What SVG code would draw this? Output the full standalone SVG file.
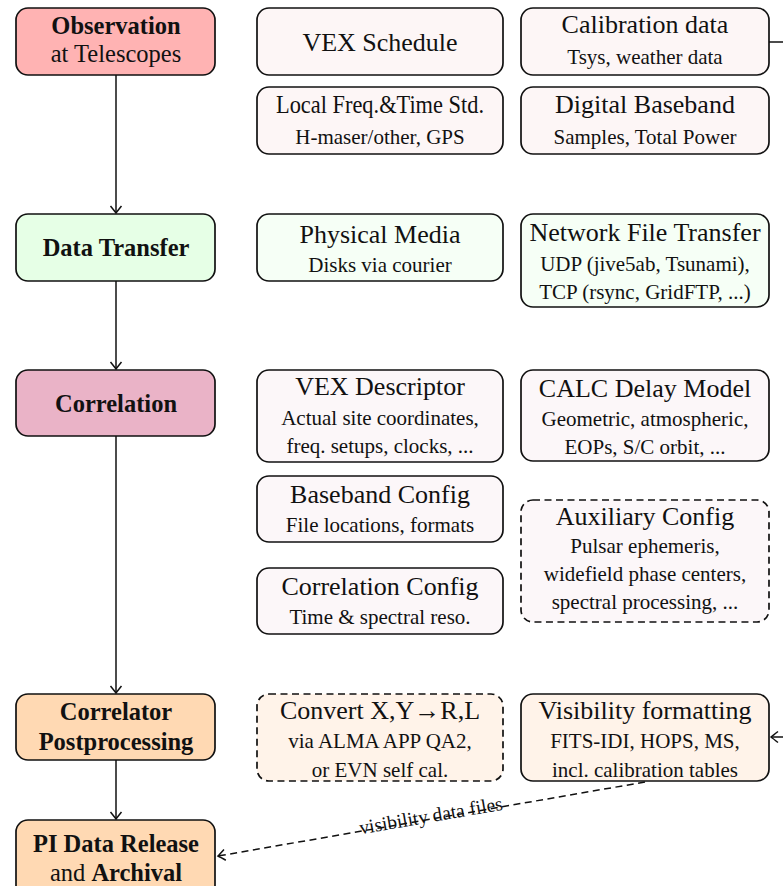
<svg xmlns="http://www.w3.org/2000/svg" width="783" height="886" viewBox="0 0 783 886">
<defs>
<style>
.box{stroke:#111;stroke-width:1.7}
.dash{stroke-dasharray:7 4.5}
.t{font-family:"Liberation Serif","Times New Roman",serif;font-size:26px;fill:#111;text-anchor:middle}
.s{font-family:"Liberation Serif","Times New Roman",serif;font-size:21px;fill:#111;text-anchor:middle}
.l{font-family:"Liberation Serif","Times New Roman",serif;font-size:24.5px;fill:#111;text-anchor:middle}
.b{font-weight:bold}
.obs{fill:#ffb3b3}
.obsl{fill:#fdf6f6}
.dt{fill:#e6ffe6}
.dtl{fill:#f6fff6}
.cor{fill:#eab3c7}
.corl{fill:#fcf7f9}
.pp{fill:#ffd9b3}
.ppl{fill:#fff3e9}
.conn{fill:none;stroke:#111;stroke-width:1.5}
</style>
<marker id="ah" viewBox="-9 -7 11 14" refX="0" refY="0" markerWidth="11" markerHeight="14" markerUnits="userSpaceOnUse" orient="auto">
<path d="M -7 -5.5 Q -2 -1.5 0 0 Q -2 1.5 -7 5.5" fill="none" stroke="#111" stroke-width="1.5"/>
</marker>
</defs>
<rect width="783" height="886" fill="#fff"/>

<g id="connectors">
<line class="conn" x1="116" y1="75" x2="116" y2="213" marker-end="url(#ah)"/>
<line class="conn" x1="116" y1="281" x2="116" y2="369" marker-end="url(#ah)"/>
<line class="conn" x1="116" y1="436" x2="116" y2="693" marker-end="url(#ah)"/>
<line class="conn" x1="116" y1="760" x2="116" y2="819" marker-end="url(#ah)"/>
<line class="conn" x1="769" y1="42" x2="783" y2="42"/>
<line class="conn" x1="783" y1="737" x2="771" y2="737" marker-end="url(#ah)"/>
<line class="conn dash" x1="645" y1="782" x2="218" y2="856" marker-end="url(#ah)"/>
<text class="s" transform="translate(432 822) rotate(-9.8)" style="font-size:19.5px">visibility data files</text>
</g>

<g id="observation"><rect class="box obs" x="16" y="8" width="199" height="67" rx="12"/>
<text class="l b" x="116" y="34">Observation</text><text class="l" x="116" y="62">at Telescopes</text></g>
<g id="vex-schedule"><rect class="box obsl" x="257" y="8" width="246" height="67" rx="12"/>
<text class="t" x="380" y="51">VEX Schedule</text></g>
<g id="calibration-data"><rect class="box obsl" x="521" y="8" width="248" height="67" rx="12"/>
<text class="t" x="645" y="33">Calibration data</text><text class="s" x="645" y="64">Tsys, weather data</text></g>
<g id="local-freq"><rect class="box obsl" x="257" y="87" width="246" height="67" rx="12"/>
<text class="t" x="380" y="113" textLength="208" lengthAdjust="spacingAndGlyphs">Local Freq.&amp;Time Std.</text><text class="s" x="380" y="144">H-maser/other, GPS</text></g>
<g id="digital-baseband"><rect class="box obsl" x="521" y="87" width="248" height="67" rx="12"/>
<text class="t" x="645" y="113">Digital Baseband</text><text class="s" x="645" y="144">Samples, Total Power</text></g>

<g id="data-transfer"><rect class="box dt" x="16" y="214" width="199" height="67" rx="12"/>
<text class="l b" x="116" y="256">Data Transfer</text></g>
<g id="physical-media"><rect class="box dtl" x="257" y="214" width="246" height="67" rx="12"/>
<text class="t" x="380" y="243">Physical Media</text><text class="s" x="380" y="272">Disks via courier</text></g>
<g id="network-transfer"><rect class="box dtl" x="521" y="214" width="248" height="93" rx="12"/>
<text class="t" x="645" y="241">Network File Transfer</text><text class="s" x="645" y="271">UDP (jive5ab, Tsunami),</text><text class="s" x="645" y="299">TCP (rsync, GridFTP, ...)</text></g>

<g id="correlation"><rect class="box cor" x="16" y="370" width="199" height="66" rx="12"/>
<text class="l b" x="116" y="412">Correlation</text></g>
<g id="vex-descriptor"><rect class="box corl" x="257" y="370" width="246" height="92" rx="12"/>
<text class="t" x="380" y="395">VEX Descriptor</text><text class="s" x="380" y="425">Actual site coordinates,</text><text class="s" x="380" y="453">freq.  setups, clocks, ...</text></g>
<g id="calc-delay"><rect class="box corl" x="521" y="370" width="248" height="91" rx="12"/>
<text class="t" x="645" y="397">CALC Delay Model</text><text class="s" x="645" y="426">Geometric, atmospheric,</text><text class="s" x="645" y="454">EOPs, S/C orbit, ...</text></g>
<g id="baseband-config"><rect class="box corl" x="257" y="476" width="246" height="66" rx="12"/>
<text class="t" x="380" y="503">Baseband Config</text><text class="s" x="380" y="532">File locations, formats</text></g>
<g id="auxiliary-config"><rect class="box corl dash" x="521" y="500" width="248" height="122" rx="12"/>
<text class="t" x="645" y="525">Auxiliary Config</text><text class="s" x="645" y="553">Pulsar ephemeris,</text><text class="s" x="645" y="581">widefield phase centers,</text><text class="s" x="645" y="609">spectral processing, ...</text></g>
<g id="correlation-config"><rect class="box corl" x="257" y="568" width="246" height="66" rx="12"/>
<text class="t" x="380" y="595">Correlation Config</text><text class="s" x="380" y="624">Time &amp; spectral reso.</text></g>

<g id="postprocessing"><rect class="box pp" x="16" y="694" width="199" height="66" rx="12"/>
<text class="l b" x="116" y="720">Correlator</text><text class="l b" x="116" y="750">Postprocessing</text></g>
<g id="convert"><rect class="box ppl dash" x="257" y="694" width="246" height="87" rx="12"/>
<text class="t" x="380" y="719">Convert X,Y→R,L</text><text class="s" x="380" y="748">via ALMA APP QA2,</text><text class="s" x="380" y="777">or EVN self cal.</text></g>
<g id="visibility-formatting"><rect class="box ppl" x="521" y="694" width="248" height="87" rx="12"/>
<text class="t" x="645" y="719">Visibility formatting</text><text class="s" x="645" y="748">FITS-IDI, HOPS, MS,</text><text class="s" x="645" y="777">incl.  calibration tables</text></g>
<g id="pi-release"><rect class="box pp" x="16" y="820" width="199" height="80" rx="12"/>
<text class="l b" x="116" y="852">PI Data Release</text><text class="l" x="116" y="881">and <tspan class="b">Archival</tspan></text></g>
</svg>
